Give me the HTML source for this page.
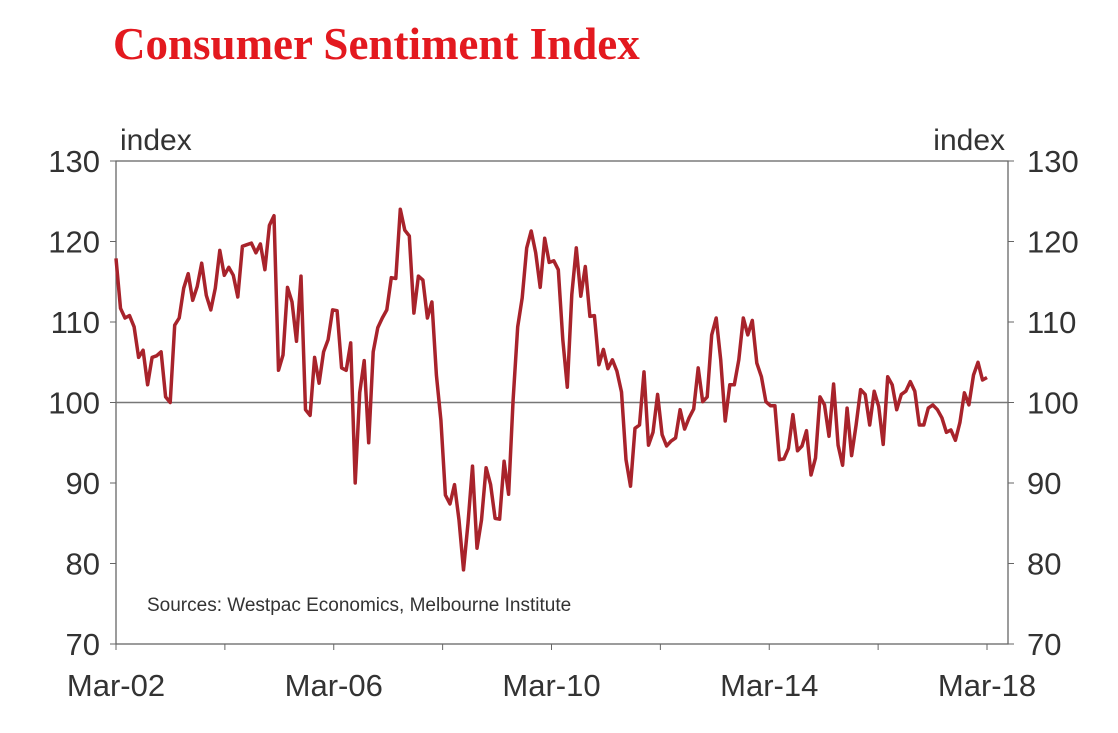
<!DOCTYPE html>
<html><head><meta charset="utf-8"><style>
body{margin:0;background:#fff;}
svg{display:block;font-family:"Liberation Sans",sans-serif;}
</style></head><body>
<svg id="c" width="1118" height="733">
<text x="113" y="59" font-family="Liberation Serif,serif" font-weight="bold" font-size="45" fill="#e3191f">Consumer Sentiment Index</text>
<text x="120" y="150" font-size="30" fill="#333">index</text>
<text x="1005" y="150" font-size="30" fill="#333" text-anchor="end">index</text>
<text x="147" y="611" font-size="19" fill="#333">Sources: Westpac Economics, Melbourne Institute</text>
<g id="axes"></g>
<polyline id="line" fill="none" stroke="#a8232b" stroke-width="3.5" stroke-linejoin="round"></polyline>
</svg>
<script>
const yTicks=[70,80,90,100,110,120,130];
const xLabels=["Mar-02","Mar-06","Mar-10","Mar-14","Mar-18"];
const xLabelMonths=[0,48,96,144,192];
const values=[117.9,111.7,110.5,110.8,109.4,105.6,106.5,102.2,105.6,105.8,106.3,100.7,100,109.6,110.5,114.2,116,112.7,114.4,117.3,113.3,111.5,114.2,118.9,115.8,116.8,115.8,113.1,119.4,119.6,119.8,118.6,119.7,116.5,122,123.2,104,105.9,114.3,112.5,107.6,115.7,99.1,98.4,105.6,102.4,106.3,107.8,111.5,111.4,104.3,104,107.4,90,101.2,105.2,95,106.3,109.3,110.5,111.5,115.5,115.4,124,121.4,120.7,111.1,115.7,115.2,110.5,112.5,103.4,97.8,88.5,87.4,89.8,85.4,79.2,85,92.1,81.9,85.4,91.9,89.8,85.6,85.5,92.7,88.6,100.3,109.4,113,119.2,121.3,118.6,114.3,120.4,117.4,117.6,116.5,107.8,101.9,113.4,119.2,113.2,116.9,110.7,110.8,104.7,106.6,104.2,105.3,103.9,101.3,92.9,89.6,96.8,97.2,103.8,94.7,96.3,101,96,94.6,95.2,95.6,99.1,96.7,98.1,99.2,104.3,100.1,100.7,108.4,110.5,105.3,97.7,102.2,102.2,105.3,110.5,108.4,110.2,104.9,103.2,100.1,99.6,99.6,92.9,93,94.3,98.5,94,94.6,96.5,91,93.1,100.7,99.7,95.8,102.3,94.7,92.2,99.3,93.4,97.2,101.6,101,97.2,101.4,99.5,94.8,103.2,102.2,99.1,101,101.4,102.6,101.4,97.2,97.2,99.3,99.7,99.1,98.1,96.3,96.6,95.3,97.5,101.2,99.7,103.4,105,102.8,103.1];
const L=116,R=1008,T=161,B=644;
const y=v=>B-(v-70)/60*(B-T);
const x=m=>L+m*(987-L)/192;
const xi=i=>L+i*(987-L)/(values.length-1);
const ns="http://www.w3.org/2000/svg";
const g=document.getElementById('axes');
function mk(t,a,p){const e=document.createElementNS(ns,t);for(const k in a)e.setAttribute(k,a[k]);(p||g).appendChild(e);return e;}
let fr=mk('rect',{x:L,y:T,width:R-L,height:B-T,fill:'none',stroke:'#666','stroke-width':1.3});


let base=mk('line',{x1:L,x2:R,y1:y(100),y2:y(100),stroke:'#777','stroke-width':1.5});


yTicks.forEach(v=>{
 mk('line',{x1:L-6,x2:L,y1:y(v),y2:y(v),stroke:'#666'});
 mk('line',{x1:R,x2:R+6,y1:y(v),y2:y(v),stroke:'#666'});
 let a=mk('text',{x:100,y:y(v)+11,'font-size':31,fill:'#333','text-anchor':'end'});a.textContent=v;
 
 
 let b=mk('text',{x:1027,y:y(v)+11,'font-size':31,fill:'#333'});b.textContent=v;
 
 
});
for(let m=0;m<=192;m+=24){mk('line',{x1:x(m),x2:x(m),y1:B,y2:B+6,stroke:'#666'});}
xLabels.forEach((s,i)=>{
 let t=mk('text',{x:x(xLabelMonths[i]),y:696,'font-size':31,fill:'#333','text-anchor':'middle'});t.textContent=s;
 
 
});
document.getElementById('line').setAttribute('points',values.map((v,i)=>xi(i).toFixed(1)+','+y(v).toFixed(1)).join(' '));
</script>
</body></html>
